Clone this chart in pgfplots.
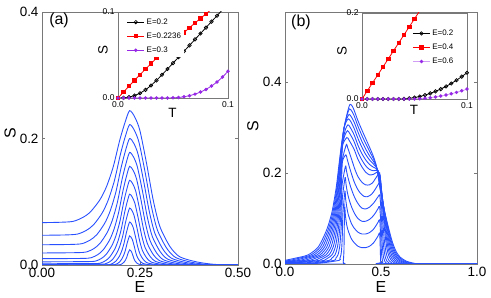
\documentclass[border=0pt]{standalone}
\usepackage{fontspec}
\setmainfont{Liberation Sans}
\usepackage{pgfplots}
\pgfplotsset{compat=1.18}
\definecolor{cblue}{RGB}{40,80,255}
\definecolor{cred}{RGB}{255,0,0}
\definecolor{cpurp}{RGB}{150,40,230}
\definecolor{cframe}{RGB}{120,120,120}
\pgfplotsset{
 mainax/.style={scale only axis, anchor=south west,
   axis line style={cframe, line width=0.6pt}, tick style={cframe, line width=0.6pt},
   major tick length=3bp, tick align=inside,
   ticklabel style={font=\fontsize{13.5}{14}\selectfont},
   label style={font=\fontsize{16}{18}\selectfont}},
 bl/.style={cblue, line width=0.9pt, smooth, tension=0.45, mark=none},
 insax/.style={scale only axis, anchor=south west,
   axis background/.style={fill=white},
   axis line style={cframe, line width=0.6pt}, tick style={cframe, line width=0.5pt},
   major tick length=2bp, tick align=inside,
   ticklabel style={font=\fontsize{8.5}{9}\selectfont},
   label style={font=\fontsize{13.5}{14}\selectfont},
   legend cell align=left},
 blk/.style={black, line width=0.8pt, mark=o, mark size=1.7bp, mark options={line width=0.7pt}},
 rd/.style={cred, line width=0.8pt, mark=square*, mark size=1.7bp},
 pu/.style={cpurp, line width=0.8pt, mark=*, mark size=1.3bp},
}
\begin{document}
\begin{tikzpicture}
\useasboundingbox (0,0) rectangle (491bp,298bp);
% ---------------- panel (a) main ----------------
\begin{axis}[mainax, at={(42bp,33bp)}, width=196bp, height=253bp,
  xmin=0, xmax=0.5, ymin=0, ymax=0.4,
  xtick={0,0.25,0.5}, xticklabels={0.00,0.25,0.50},
  ytick={0,0.2,0.4}, yticklabels={0.0,0.2,0.4},
  xlabel={E}, ylabel={S},
  xlabel style={at={(axis description cs:0.5,-0.087)}, anchor=center},
  ylabel style={at={(axis description cs:-0.163,0.522)}, anchor=center}]
\addplot[bl] coordinates {(0,0.067) (0.0436,0.0675) (0.0786,0.0689) (0.1036,0.075) (0.1236,0.084) (0.1476,0.103) (0.1646,0.124) (0.1816,0.155) (0.1986,0.198) (0.2126,0.227) (0.2236,0.244) (0.2366,0.234) (0.2496,0.213) (0.2666,0.161) (0.2836,0.103) (0.3006,0.061) (0.3266,0.029) (0.3516,0.0129) (0.3946,0.0049) (0.4396,0.001) (0.5,0)};
\addplot[bl] coordinates {(0,0.047) (0.0584,0.0475) (0.0905,0.0489) (0.1134,0.0549) (0.1318,0.0638) (0.1538,0.0825) (0.1694,0.1034) (0.1850,0.134) (0.2006,0.1765) (0.2135,0.2052) (0.2236,0.222) (0.2355,0.2131) (0.2475,0.1938) (0.2631,0.1465) (0.2787,0.0937) (0.2943,0.0555) (0.3182,0.0264) (0.3411,0.0118) (0.3806,0.0044) (0.4219,0.0009) (0.4806,0) (0.5,0)};
\addplot[bl] coordinates {(0,0.032) (0.0731,0.0325) (0.1024,0.0338) (0.1233,0.0396) (0.14,0.0481) (0.1601,0.0661) (0.1743,0.0861) (0.1885,0.1155) (0.2027,0.1563) (0.2144,0.1839) (0.2236,0.2) (0.2345,0.192) (0.2453,0.1746) (0.2595,0.132) (0.2738,0.0844) (0.288,0.05) (0.3097,0.0238) (0.3306,0.0106) (0.3666,0.004) (0.4042,0.0008) (0.4577,0) (0.5,0)};
\addplot[bl] coordinates {(0,0.019) (0.0877,0.0195) (0.1141,0.0207) (0.133,0.0262) (0.1481,0.0343) (0.1662,0.0513) (0.1791,0.0702) (0.1919,0.098) (0.2047,0.1367) (0.2153,0.1627) (0.2236,0.178) (0.2334,0.1709) (0.2432,0.1554) (0.2561,0.1175) (0.2689,0.0751) (0.2817,0.0445) (0.3014,0.0212) (0.3202,0.0094) (0.3527,0.0036) (0.3867,0.0007) (0.435,0) (0.5,0)};
\addplot[bl] coordinates {(0,0.010) (0.1025,0.0104) (0.126,0.0116) (0.1428,0.0166) (0.1563,0.024) (0.1725,0.0396) (0.1839,0.057) (0.1953,0.0826) (0.2068,0.118) (0.2162,0.142) (0.2236,0.156) (0.2323,0.1498) (0.2411,0.1362) (0.2525,0.103) (0.264,0.0658) (0.2754,0.039) (0.2929,0.0186) (0.3097,0.0083) (0.3387,0.0031) (0.369,0.0006) (0.412,0) (0.5,0)};
\addplot[bl] coordinates {(0,0.005) (0.1172,0.0054) (0.1379,0.0064) (0.1527,0.0108) (0.1645,0.0174) (0.1787,0.0312) (0.1887,0.0465) (0.1988,0.0691) (0.2088,0.1005) (0.2171,0.1216) (0.2236,0.134) (0.2313,0.1286) (0.239,0.117) (0.249,0.0884) (0.2591,0.0565) (0.2691,0.0335) (0.2845,0.0159) (0.2992,0.0071) (0.3247,0.0027) (0.3513,0.0005) (0.3891,0) (0.5,0)};
\addplot[bl] coordinates {(0,0.002) (0.132,0.0023) (0.1498,0.0032) (0.1625,0.007) (0.1727,0.0126) (0.1849,0.0243) (0.1936,0.0374) (0.2022,0.0567) (0.2109,0.0834) (0.218,0.1014) (0.2236,0.112) (0.2302,0.1075) (0.2368,0.0978) (0.2455,0.0739) (0.2541,0.0473) (0.2628,0.028) (0.276,0.0133) (0.2888,0.0059) (0.3106,0.0022) (0.3335,0.0004) (0.3661,0) (0.5,0)};
\addplot[bl] coordinates {(0,0.001) (0.1467,0.0013) (0.1617,0.002) (0.1724,0.005) (0.1809,0.0095) (0.1911,0.0191) (0.1984,0.0297) (0.2057,0.0452) (0.2129,0.0669) (0.2189,0.0815) (0.2236,0.09) (0.2292,0.0864) (0.2347,0.0786) (0.242,0.0594) (0.2492,0.038) (0.2565,0.0225) (0.2676,0.0107) (0.2783,0.0048) (0.2966,0.0018) (0.3158,0.0004) (0.3432,0) (0.5,0)};
\addplot[bl] coordinates {(0,0) (0.1615,0.0002) (0.1736,0.0007) (0.1822,0.0031) (0.1891,0.0065) (0.1974,0.0138) (0.2032,0.0219) (0.2091,0.0338) (0.215,0.0503) (0.2198,0.0615) (0.2236,0.068) (0.2281,0.0653) (0.2326,0.0594) (0.2384,0.0449) (0.2443,0.0287) (0.2502,0.017) (0.2591,0.0081) (0.2678,0.0036) (0.2826,0.0014) (0.2981,0.0003) (0.3202,0) (0.5,0)};
\addplot[bl] coordinates {(0,0) (0.1761,0.0001) (0.1853,0.0005) (0.1919,0.0021) (0.1972,0.0044) (0.2035,0.0093) (0.208,0.0148) (0.2125,0.0229) (0.217,0.034) (0.2207,0.0416) (0.2236,0.046) (0.227,0.0442) (0.2305,0.0402) (0.235,0.0304) (0.2394,0.0194) (0.2439,0.0115) (0.2508,0.0055) (0.2574,0.0024) (0.2687,0.0009) (0.2806,0.0002) (0.2975,0) (0.5,0)};
\addplot[bl] coordinates {(0,0) (0.1908,0.0001) (0.1972,0.0003) (0.2018,0.0011) (0.2054,0.0023) (0.2098,0.0049) (0.2129,0.0077) (0.216,0.0119) (0.219,0.0178) (0.2216,0.0217) (0.2236,0.024) (0.226,0.023) (0.2283,0.021) (0.2314,0.0158) (0.2345,0.0101) (0.2376,0.006) (0.2423,0.0029) (0.2469,0.0013) (0.2547,0.0005) (0.2629,0.0001) (0.2746,0) (0.5,0)};
\node[font=\fontsize{16}{18}\selectfont] at (rel axis cs:0.087,0.968) {(a)};
\end{axis}
% ---------------- panel (b) main ----------------
\begin{axis}[mainax, at={(285bp,34bp)}, width=192bp, height=252bp,
  xmin=0, xmax=1, ymin=0, ymax=0.554,
  xtick={0,0.5,1}, xticklabels={0.0,0.5,1.0},
  ytick={0,0.2,0.4}, yticklabels={0.0,0.2,0.4},
  xlabel={E}, ylabel={S},
  xlabel style={at={(axis description cs:0.5,-0.091)}, anchor=center},
  ylabel style={at={(axis description cs:-0.167,0.548)}, anchor=center}]
\addplot[bl] coordinates {(0,0) (0.295,0) (0.303,0.004) (0.307,0.03) (0.309,0.09) (0.311,0.126) (0.315,0.105) (0.322,0.085) (0.33,0.072) (0.345,0.056) (0.36,0.047) (0.38,0.039) (0.40,0.036) (0.42,0.036) (0.44,0.039) (0.46,0.046) (0.475,0.055) (0.485,0.062) (0.493,0.067) (0.4964,0.031) (0.4976,0.011) (0.4991,0.003) (0.502,0) (1,0)};
\addplot[bl] coordinates {(0,0) (0.169,0.0015) (0.2814,0.008) (0.2856,0.0125) (0.2914,0.02) (0.2959,0.038) (0.2995,0.075) (0.3017,0.111) (0.312,0.16) (0.316,0.142) (0.323,0.122) (0.33,0.108) (0.345,0.09) (0.36,0.079) (0.38,0.07) (0.40,0.066) (0.42,0.066) (0.44,0.069) (0.46,0.076) (0.475,0.085) (0.485,0.092) (0.493,0.097) (0.4978,0.0659) (0.5,0.0455) (0.5022,0.0275) (0.5044,0.0154) (0.51,0.0038) (0.52,0) (1,0)};
\addplot[bl] coordinates {(0,0) (0.153,0.0015) (0.2558,0.008) (0.2642,0.0125) (0.2758,0.02) (0.2848,0.038) (0.292,0.075) (0.2963,0.111) (0.2988,0.145) (0.313,0.19) (0.318,0.175) (0.325,0.157) (0.335,0.14) (0.35,0.122) (0.365,0.109) (0.38,0.1) (0.40,0.094) (0.42,0.094) (0.44,0.098) (0.46,0.106) (0.475,0.115) (0.485,0.122) (0.493,0.126) (0.4998,0.0858) (0.5036,0.0593) (0.5075,0.0358) (0.5113,0.02) (0.5152,0.0114) (0.5209,0.005) (0.5286,0.0014) (0.5382,0) (1,0)};
\addplot[bl] coordinates {(0,0.0005) (0.138,0.002) (0.2302,0.008) (0.2427,0.0125) (0.2602,0.02) (0.2737,0.038) (0.2845,0.075) (0.291,0.111) (0.2947,0.145) (0.2975,0.175) (0.315,0.215) (0.32,0.205) (0.328,0.19) (0.34,0.172) (0.355,0.154) (0.37,0.14) (0.385,0.13) (0.40,0.123) (0.42,0.121) (0.44,0.125) (0.46,0.133) (0.475,0.142) (0.485,0.148) (0.493,0.152) (0.4977,0.1329) (0.5018,0.1036) (0.5073,0.0716) (0.5127,0.0432) (0.5182,0.0242) (0.5236,0.0137) (0.5318,0.006) (0.5427,0.0017) (0.5563,0) (1,0)};
\addplot[bl] coordinates {(0,0.0009) (0.12,0.003) (0.2047,0.008) (0.2213,0.0125) (0.2447,0.02) (0.2627,0.038) (0.277,0.075) (0.2857,0.111) (0.2907,0.145) (0.2943,0.175) (0.299,0.225) (0.317,0.24) (0.323,0.232) (0.332,0.218) (0.345,0.2) (0.36,0.181) (0.375,0.167) (0.39,0.157) (0.41,0.149) (0.43,0.148) (0.45,0.153) (0.465,0.161) (0.478,0.17) (0.487,0.176) (0.493,0.178) (0.4985,0.1558) (0.5038,0.1214) (0.5109,0.0839) (0.5179,0.0506) (0.525,0.0283) (0.5321,0.0161) (0.5427,0.0071) (0.5568,0.0019) (0.5744,0) (1,0)};
\addplot[bl] coordinates {(0,0.0014) (0.1,0.004) (0.1791,0.008) (0.1999,0.0125) (0.2291,0.02) (0.2516,0.038) (0.2695,0.075) (0.2803,0.111) (0.2866,0.145) (0.2912,0.175) (0.297,0.225) (0.319,0.262) (0.326,0.256) (0.336,0.244) (0.35,0.226) (0.365,0.207) (0.38,0.192) (0.40,0.18) (0.42,0.174) (0.44,0.174) (0.455,0.178) (0.47,0.187) (0.482,0.195) (0.493,0.2) (0.4993,0.1751) (0.5059,0.1365) (0.5145,0.0943) (0.5232,0.0569) (0.5319,0.0318) (0.5406,0.0181) (0.5536,0.008) (0.571,0.0022) (0.5927,0) (1,0)};
\addplot[bl] coordinates {(0,0.002) (0.08,0.0045) (0.1535,0.008) (0.1785,0.0125) (0.2135,0.02) (0.2405,0.038) (0.262,0.075) (0.275,0.111) (0.2825,0.145) (0.288,0.175) (0.295,0.225) (0.3005,0.262) (0.322,0.278) (0.334,0.272) (0.36,0.252) (0.38,0.23) (0.40,0.214) (0.42,0.202) (0.44,0.196) (0.46,0.197) (0.475,0.201) (0.485,0.203) (0.495,0.195) (0.5002,0.1716) (0.5079,0.1338) (0.5182,0.0924) (0.5285,0.0558) (0.5388,0.0312) (0.5491,0.0177) (0.5645,0.0078) (0.5851,0.0021) (0.6109,0) (1,0)};
\addplot[bl] coordinates {(0,0.0027) (0.07,0.005) (0.1279,0.008) (0.1571,0.0125) (0.1979,0.02) (0.2294,0.038) (0.2545,0.075) (0.2697,0.111) (0.2784,0.145) (0.2848,0.175) (0.293,0.225) (0.2994,0.262) (0.312,0.283) (0.325,0.293) (0.337,0.287) (0.36,0.269) (0.38,0.246) (0.40,0.229) (0.42,0.216) (0.44,0.208) (0.46,0.205) (0.475,0.206) (0.485,0.205) (0.495,0.192) (0.501,0.169) (0.5099,0.1317) (0.5218,0.091) (0.5337,0.0549) (0.5457,0.0307) (0.5576,0.0175) (0.5755,0.0077) (0.5993,0.0021) (0.6291,0) (1,0)};
\addplot[bl] coordinates {(0,0.0036) (0.05,0.0058) (0.1023,0.008) (0.1357,0.0125) (0.1823,0.02) (0.2183,0.038) (0.247,0.075) (0.2643,0.111) (0.2743,0.145) (0.2817,0.175) (0.291,0.225) (0.2983,0.262) (0.314,0.295) (0.328,0.306) (0.34,0.3) (0.36,0.284) (0.38,0.261) (0.40,0.243) (0.42,0.229) (0.44,0.219) (0.46,0.213) (0.475,0.21) (0.485,0.205) (0.495,0.188) (0.5018,0.1654) (0.5119,0.129) (0.5255,0.0891) (0.539,0.0538) (0.5525,0.0301) (0.5661,0.0171) (0.5864,0.0075) (0.6135,0.0021) (0.6473,0) (1,0)};
\addplot[bl] coordinates {(0,0.0045) (0.0767,0.008) (0.1142,0.0125) (0.1667,0.02) (0.2072,0.038) (0.2395,0.075) (0.259,0.111) (0.2702,0.145) (0.2785,0.175) (0.289,0.225) (0.2972,0.262) (0.307,0.298) (0.319,0.313) (0.331,0.319) (0.343,0.313) (0.36,0.298) (0.38,0.276) (0.40,0.257) (0.42,0.241) (0.44,0.229) (0.46,0.22) (0.475,0.213) (0.485,0.204) (0.495,0.182) (0.5026,0.1602) (0.5139,0.1249) (0.5291,0.0863) (0.5442,0.0521) (0.5594,0.0291) (0.5745,0.0166) (0.5973,0.0073) (0.6276,0.002) (0.6654,0) (1,0)};
\addplot[bl] coordinates {(0,0.0056) (0.0512,0.008) (0.0928,0.0125) (0.1512,0.02) (0.1962,0.038) (0.232,0.075) (0.2537,0.111) (0.2662,0.145) (0.2753,0.175) (0.287,0.225) (0.2962,0.262) (0.307,0.298) (0.32,0.318) (0.334,0.329) (0.346,0.323) (0.36,0.312) (0.38,0.29) (0.40,0.27) (0.42,0.253) (0.44,0.238) (0.46,0.226) (0.475,0.215) (0.485,0.201) (0.495,0.176) (0.5034,0.1549) (0.516,0.1207) (0.5327,0.0834) (0.5495,0.0503) (0.5662,0.0282) (0.583,0.016) (0.6081,0.007) (0.6417,0.0019) (0.6836,0) (1,0)};
\addplot[bl] coordinates {(0,0.0067) (0.0256,0.008) (0.0714,0.0125) (0.1356,0.02) (0.1851,0.038) (0.2245,0.075) (0.2483,0.111) (0.2621,0.145) (0.2722,0.175) (0.285,0.225) (0.2951,0.262) (0.307,0.298) (0.322,0.326) (0.336,0.341) (0.348,0.336) (0.36,0.326) (0.38,0.303) (0.40,0.283) (0.42,0.265) (0.44,0.248) (0.46,0.232) (0.475,0.216) (0.485,0.197) (0.495,0.17) (0.5042,0.1496) (0.518,0.1166) (0.5364,0.0806) (0.5547,0.0486) (0.5731,0.0272) (0.5915,0.0155) (0.6191,0.0068) (0.6558,0.0019) (0.7018,0) (1,0)};
\addplot[bl] coordinates {(0,0.008) (0.05,0.0125) (0.12,0.02) (0.174,0.038) (0.217,0.075) (0.243,0.111) (0.258,0.145) (0.269,0.175) (0.283,0.225) (0.294,0.262) (0.307,0.298) (0.326,0.335) (0.3385,0.351) (0.35,0.347) (0.36,0.338) (0.38,0.315) (0.40,0.295) (0.42,0.276) (0.44,0.257) (0.46,0.237) (0.475,0.217) (0.485,0.192) (0.495,0.165) (0.505,0.1452) (0.52,0.1132) (0.54,0.0782) (0.56,0.0472) (0.58,0.0264) (0.60,0.015) (0.63,0.0066) (0.67,0.0018) (0.72,0) (1,0)};
\node[font=\fontsize{16}{18}\selectfont] at (rel axis cs:0.083,0.958) {(b)};
\end{axis}
% ---------------- inset (a) ----------------
\begin{axis}[insax, at={(118bp,200bp)}, width=110bp, height=86bp,
  xmin=0, xmax=0.1, ymin=0, ymax=0.1,
  xtick={0,0.1}, xticklabels={0.0,0.1}, ytick={0,0.1}, yticklabels={0.0,0.1},
  xlabel={T}, ylabel={S},
  xlabel style={at={(axis description cs:0.495,-0.169)}, anchor=center},
  ylabel style={at={(axis description cs:-0.136,0.558)}, anchor=center},
  legend style={at={(axis description cs:0.07,0.96)}, anchor=north west, draw=none, fill=white,
    font=\fontsize{8}{9}\selectfont, inner sep=1pt, row sep=3pt}]
\addplot[blk] coordinates {(0,0) (0.005,0.0002) (0.01,0.001) (0.015,0.0028) (0.02,0.0055) (0.025,0.0095) (0.03,0.0145) (0.035,0.0205) (0.04,0.027) (0.045,0.0337) (0.05,0.0405) (0.055,0.0474) (0.06,0.0543) (0.065,0.0612) (0.07,0.0681) (0.075,0.075) (0.08,0.0819) (0.085,0.0888) (0.09,0.0957) (0.095,0.1026)};
\addlegendentry{E=0.2}
\addplot[rd] coordinates {(0,0) (0.005,0.0069) (0.01,0.0138) (0.015,0.0205) (0.02,0.0271) (0.025,0.0336) (0.03,0.04) (0.035,0.0463) (0.04,0.0525) (0.045,0.0585) (0.05,0.0645) (0.055,0.0703) (0.06,0.0761) (0.065,0.0817) (0.07,0.0872) (0.075,0.0926) (0.08,0.0979) (0.085,0.1031)};
\addlegendentry{E=0.2236}
\addplot[pu] coordinates {(0,0) (0.005,0) (0.01,0) (0.015,0) (0.02,0) (0.025,0) (0.03,0) (0.035,0) (0.04,0) (0.045,0) (0.05,0.0002) (0.055,0.0006) (0.06,0.0014) (0.065,0.0027) (0.07,0.0045) (0.075,0.0069) (0.08,0.01) (0.085,0.0139) (0.09,0.0186) (0.095,0.0243) (0.1,0.031)};
\addlegendentry{E=0.3}
\end{axis}
% ---------------- inset (b) ----------------
\begin{axis}[insax, at={(362bp,199bp)}, width=105bp, height=86bp,
  xmin=0, xmax=0.1, ymin=0, ymax=0.2,
  xtick={0,0.1}, xticklabels={0.0,0.1}, ytick={0,0.2}, yticklabels={0.0,0.2},
  xlabel={T}, ylabel={S},
  xlabel style={at={(axis description cs:0.495,-0.128)}, anchor=center},
  ylabel style={at={(axis description cs:-0.19,0.558)}, anchor=center},
  legend style={at={(axis description cs:0.47,0.84)}, anchor=north west, draw=none, fill=none,
    font=\fontsize{8}{9}\selectfont, inner sep=1pt, row sep=3pt}]
\addplot[blk] coordinates {(0,0) (0.005,0) (0.01,0) (0.015,0) (0.02,0) (0.025,0) (0.03,0) (0.035,0) (0.04,0.0004) (0.045,0.0014) (0.05,0.0033) (0.055,0.0058) (0.06,0.009) (0.065,0.013) (0.07,0.0177) (0.075,0.0231) (0.08,0.0292) (0.085,0.0361) (0.09,0.0437) (0.095,0.052) (0.1,0.061)};
\addlegendentry{E=0.2}
\addplot[rd] coordinates {(0,0) (0.005,0.0187) (0.01,0.0373) (0.015,0.056) (0.02,0.0746) (0.025,0.0933) (0.03,0.112) (0.035,0.1306) (0.04,0.1492) (0.045,0.168) (0.05,0.1865) (0.055,0.205)};
\addlegendentry{E=0.4}
\addplot[pu, color=cpurp!45, mark options={cpurp, fill=cpurp}] coordinates {(0,0) (0.005,0) (0.01,0) (0.015,0) (0.02,0) (0.025,0) (0.03,0) (0.035,0) (0.04,0) (0.045,0) (0.05,0.0002) (0.055,0.0008) (0.06,0.0017) (0.065,0.003) (0.07,0.0048) (0.075,0.0068) (0.08,0.0093) (0.085,0.0122) (0.09,0.0154) (0.095,0.019) (0.1,0.023)};
\addlegendentry{E=0.6}
\end{axis}
\end{tikzpicture}
\end{document}
